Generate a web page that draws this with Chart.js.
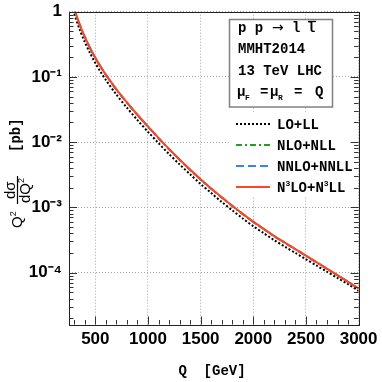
<!DOCTYPE html>
<html>
<head>
<meta charset="utf-8">
<script src="https://cdn.jsdelivr.net/npm/chart.js@4/dist/chart.umd.min.js"></script>
<style>
  html, body { margin: 0; padding: 0; background: #fff; }
</style>
</head>
<body>
<canvas id="myChart" width="382" height="382"></canvas>
<script>
/*-------------------------
~~~~~~~~~~~ Data ~~~~~~~~~~
-------------------------*/
const qValues = [300, 350, 400, 450, 500, 550, 600, 700, 800, 900, 1000, 1100, 1200, 1300, 1400, 1500,
    1600, 1700, 1800, 1900, 2000, 2100, 2200, 2300, 2400, 2500, 2600, 2700, 2800, 2900, 3000];

const loLL = [0.923, 0.540, 0.343, 0.231, 0.163, 0.1197, 0.0897, 0.0535, 0.0337, 0.0218, 0.01439,
    0.00966, 0.00656, 0.00456, 0.00321, 0.00228, 0.00166, 0.00121, 0.000902, 0.000676, 0.000513,
    0.000401, 0.000313, 0.000250, 0.000200, 0.000160, 0.0001285, 0.000103, 0.0000826, 0.0000664, 0.0000525];

const nloNLL = [1.08, 0.636, 0.406, 0.275, 0.194, 0.1423, 0.1068, 0.0636, 0.0401, 0.0259, 0.01714,
    0.01144, 0.00773, 0.00535, 0.00374, 0.00265, 0.00192, 0.00141, 0.001045, 0.000783, 0.000595,
    0.000462, 0.000358, 0.000284, 0.000226, 0.000180, 0.000143, 0.0001135, 0.0000902, 0.0000716, 0.0000563];

const nnloNNLL = [1.09, 0.642, 0.409, 0.277, 0.196, 0.1437, 0.1078, 0.0642, 0.0405, 0.0261, 0.01731,
    0.01155, 0.00781, 0.00540, 0.00378, 0.00268, 0.00194, 0.001425, 0.001055, 0.000790, 0.000600,
    0.000466, 0.000361, 0.000287, 0.000228, 0.0001815, 0.000144, 0.0001145, 0.0000909, 0.0000722, 0.0000567];

const n3loN3LL = [1.096, 0.646, 0.412, 0.279, 0.197, 0.1445, 0.1084, 0.0646, 0.0407, 0.0263, 0.0174,
    0.01161, 0.00785, 0.00543, 0.00380, 0.00269, 0.00195, 0.00143, 0.00106, 0.000794, 0.000603,
    0.000468, 0.000363, 0.000288, 0.000229, 0.000182, 0.0001445, 0.0001148, 0.0000912, 0.0000724, 0.0000569];

const seriesNames = ['LO+LL', 'NLO+NLL', 'NNLO+NNLL', 'N³LO+N³LL'];

const xMajorTicks = [500, 1000, 1500, 2000, 2500, 3000];
const xTickLabels = ['500', '1000', '1500', '2000', '2500', '3000'];
const yMajorTicks = [1, 1e-1, 1e-2, 1e-3, 1e-4];
const yTickLabels = ['1', '10⁻¹', '10⁻²', '10⁻³', '10⁻⁴'];

const infoLines = ['MMHT2014', '13 TeV LHC'];

const MONO = '"Liberation Mono", "DejaVu Sans Mono", monospace';
const SANS = '"Liberation Sans", Arial, sans-serif';


/*-------------------------
~~~~~~~~~ Helpers ~~~~~~~~~
-------------------------*/
function toPoints(values) {
    return values.map((v, i) => ({ x: qValues[i], y: v }));
}

// draws text where ² ³ are rendered as small raised digits
function drawRich(ctx, text, x, y, size, family, weight) {
    const sup = { '²': '2', '³': '3' };
    let cx = x;
    for (const ch of text) {
        if (sup[ch]) {
            ctx.font = `${weight} ${Math.round(size * 0.6)}px ${family}`;
            ctx.fillText(sup[ch], cx, y - size * 0.42);
            cx += ctx.measureText(sup[ch]).width;
        } else {
            ctx.font = `${weight} ${size}px ${family}`;
            ctx.fillText(ch, cx, y);
            cx += ctx.measureText(ch).width;
        }
    }
    return cx;
}


/*-------------------------
~~~~~~~~~ Plugins ~~~~~~~~~
-------------------------*/
const legendBox = {
    id: 'legendBox',
    afterDatasetsDraw(chart) {
        const ctx = chart.ctx;
        ctx.save();

        // info box
        ctx.fillStyle = '#fff';
        ctx.fillRect(229.5, 19.5, 103, 87.5);
        ctx.strokeStyle = '#808080';
        ctx.lineWidth = 1.5;
        ctx.strokeRect(229.5, 19.5, 103, 87.5);

        ctx.fillStyle = '#000';
        ctx.textBaseline = 'alphabetic';
        ctx.textAlign = 'left';
        ctx.font = `bold 14px ${MONO}`;
        ctx.fillText('p p', 238, 32);
        ctx.font = `14px "DejaVu Sans", sans-serif`;
        ctx.fillText('→', 272, 32);
        ctx.font = `bold 14px ${MONO}`;
        ctx.fillText('l', 292, 32);
        ctx.fillText('l', 307, 32);
        ctx.strokeStyle = '#000';
        ctx.lineWidth = 1.3;
        ctx.beginPath();
        ctx.moveTo(308, 21.5);
        ctx.lineTo(316, 21.5);
        ctx.stroke();

        ctx.fillText(infoLines[0], 238, 53);
        ctx.fillText(infoLines[1], 238, 75);

        ctx.fillText('μ', 237, 96);
        ctx.fillText('=', 260, 96);
        ctx.fillText('μ', 270, 96);
        ctx.fillText('=', 294, 96);
        ctx.fillText('Q', 315, 96);
        ctx.font = `bold 8px ${MONO}`;
        ctx.fillText('F', 245, 100);
        ctx.fillText('R', 278, 100);

        // series legend
        ctx.fillStyle = '#fff';
        ctx.fillRect(231, 113, 122, 84);
        const rows = [124, 145, 166, 187];
        chart.data.datasets.forEach((ds, i) => {
            const y = rows[i];
            ctx.strokeStyle = ds.borderColor;
            ctx.lineWidth = ds.borderWidth;
            ctx.setLineDash(ds.borderDash || []);
            ctx.beginPath();
            ctx.moveTo(236, y);
            ctx.lineTo(270, y);
            ctx.stroke();
            ctx.setLineDash([]);
            ctx.fillStyle = '#000';
            drawRich(ctx, ds.label, 277, y + 4.5, 14, MONO, 'bold');
        });
        ctx.restore();
    }
};

const frameAndTicks = {
    id: 'frameAndTicks',
    afterDraw(chart) {
        const ctx = chart.ctx;
        const { left, right, top, bottom } = chart.chartArea;
        const xs = chart.scales.x;
        const ys = chart.scales.y;
        ctx.save();
        ctx.strokeStyle = '#333';
        ctx.lineWidth = 1;
        ctx.beginPath();

        for (let q = 300; q <= 3000; q += 100) {
            const px = Math.round(xs.getPixelForValue(q)) + 0.5;
            const len = q % 500 === 0 ? 8 : 4.5;
            ctx.moveTo(px, bottom);
            ctx.lineTo(px, bottom - len);
        }
        for (let e = -5; e <= 0; e++) {
            for (let m = 1; m <= 9; m++) {
                const v = m * Math.pow(10, e);
                if (v < ys.min || v > ys.max) continue;
                const py = Math.round(ys.getPixelForValue(v)) + 0.5;
                const len = m === 1 ? 8 : 4.5;
                ctx.moveTo(left, py);
                ctx.lineTo(left + len, py);
                ctx.moveTo(right, py);
                ctx.lineTo(right - len, py);
            }
        }
        ctx.stroke();

        ctx.strokeStyle = '#222';
        ctx.strokeRect(Math.round(left) + 0.5, Math.round(top) + 0.5,
            Math.round(right - left), Math.round(bottom - top));

        // x axis title
        ctx.fillStyle = '#000';
        ctx.font = `bold 14px ${MONO}`;
        ctx.textAlign = 'center';
        ctx.textBaseline = 'alphabetic';
        ctx.fillText('Q  [GeV]', 212, 375);

        // y axis title, rotated
        ctx.translate(22, 0);
        ctx.rotate(-Math.PI / 2);
        ctx.textAlign = 'left';
        ctx.font = `bold 14px ${MONO}`;
        ctx.fillText('[pb]', -152, -2);
        drawRich(ctx, 'Q²', -228, 0, 15, SANS, 'normal');
        ctx.font = `15px ${SANS}`;
        ctx.fillText('dσ', -199, -7);
        drawRich(ctx, 'dQ²', -203, 8, 15, SANS, 'normal');
        ctx.lineWidth = 1.2;
        ctx.strokeStyle = '#000';
        ctx.beginPath();
        ctx.moveTo(-204, -4.5);
        ctx.lineTo(-176, -4.5);
        ctx.stroke();
        ctx.restore();
    }
};


/*-------------------------
~~~~~~~~~~ Chart ~~~~~~~~~~
-------------------------*/
const ctx = document.getElementById('myChart').getContext('2d');

function newDataset(label, values, color, dash, order) {
    return {
        label: label,
        data: toPoints(values),
        borderColor: color,
        borderWidth: 2,
        borderDash: dash,
        pointRadius: 0,
        fill: false,
        tension: 0.3,
        order: order
    };
}

const myChart = new Chart(ctx, {
    type: 'line',
    data: {
        datasets: [
            newDataset(seriesNames[0], loLL, '#000000', [2, 2], 3),
            newDataset(seriesNames[1], nloNLL, '#22a020', [6, 3, 2, 3], 2),
            newDataset(seriesNames[2], nnloNNLL, '#3a80f0', [8, 4], 1),
            newDataset(seriesNames[3], n3loN3LL, '#ff4522', [], 0)
        ]
    },
    options: {
        responsive: false,
        animation: false,
        layout: { padding: 0 },
        plugins: {
            legend: { display: false },
            tooltip: { enabled: false }
        },
        scales: {
            x: {
                type: 'linear',
                min: 250,
                max: 3000,
                afterBuildTicks: s => { s.ticks = xMajorTicks.map(v => ({ value: v })); },
                afterFit: s => { s.height = 57.5; },
                grid: { color: '#a8a8a8', lineWidth: 1, drawTicks: false },
                border: { display: false, dash: [1, 2] },
                ticks: {
                    color: '#000',
                    font: { family: SANS, size: 17, weight: 'bold', lineHeight: 1.18 },
                    padding: 4.5,
                    autoSkip: false,
                    maxRotation: 0,
                    callback: (val, i) => xTickLabels[i]
                }
            },
            y: {
                type: 'logarithmic',
                min: 1.6e-5,
                max: 1,
                afterBuildTicks: s => { s.ticks = yMajorTicks.map(v => ({ value: v })); },
                afterFit: s => { s.width = 69; },
                grid: { color: '#a8a8a8', lineWidth: 1, drawTicks: false },
                border: { display: false, dash: [1, 2] },
                ticks: {
                    color: '#000',
                    font: { family: SANS, size: 17, weight: 'bold', lineHeight: 0.55 },
                    padding: 7,
                    autoSkip: false,
                    callback: (val, i) => yTickLabels[i]
                }
            }
        }
    },
    plugins: [legendBox, frameAndTicks]
});
</script>
</body>
</html>
